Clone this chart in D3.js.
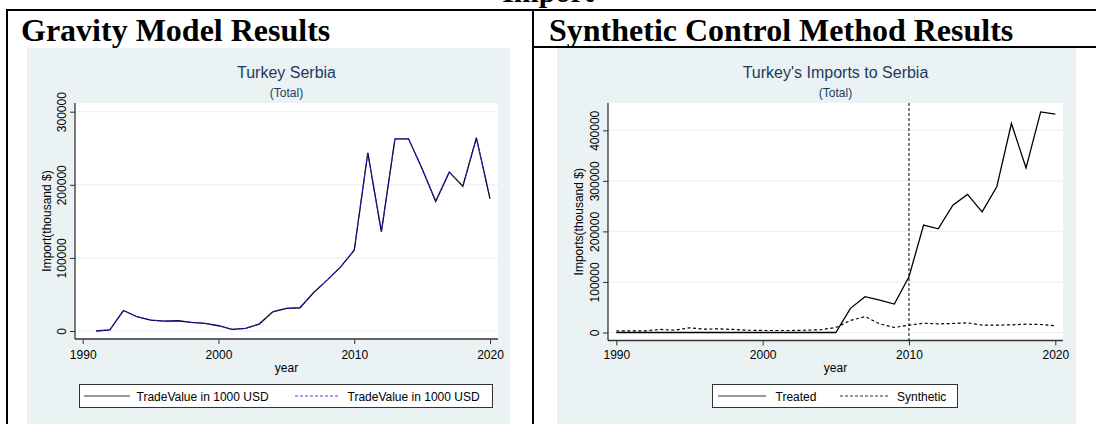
<!DOCTYPE html>
<html>
<head>
<meta charset="utf-8">
<script src="https://cdn.jsdelivr.net/npm/d3@7"></script>
<style>
  body { margin: 0; background: #fff; }
  text { font-family: "Liberation Sans", Arial, sans-serif; }
</style>
</head>
<body>
<div id="chart"></div>
<script>
(function(){

// ---- data ----
var gravityYears = [1991,1992,1993,1994,1995,1996,1997,1998,1999,2000,
                    2001,2002,2003,2004,2005,2006,2007,2008,2009,2010,
                    2011,2012,2013,2014,2015,2016,2017,2018,2019,2020];
var gravityImport = [0,1500,28000,19500,15000,13600,14000,11800,10500,7200,
                     2300,3600,9500,26300,31000,31800,52300,69600,87700,110500,
                     243800,135500,262900,262900,222000,177400,217300,198200,264300,181000];

var scmYears = [1990,1991,1992,1993,1994,1995,1996,1997,1998,1999,
                2000,2001,2002,2003,2004,2005,2006,2007,2008,2009,
                2010,2011,2012,2013,2014,2015,2016,2017,2018,2019,2020];
var scmTreated = [0,0,0,0,0,0,0,0,0,0,
                  0,0,0,0,0,0,47800,70800,64200,56300,
                  110300,212500,205100,252000,273100,238700,288100,413400,325700,436400,431800];
var scmSynthetic = [3000,3300,3300,6000,4600,9200,6600,7200,6000,4600,
                    4000,4000,4000,4600,5600,9900,23700,31600,17100,9900,
                    14500,18400,17100,17800,19100,14500,14500,15100,16400,15800,13200];

var xTicks = [1990, 2000, 2010, 2020];
var gravityYTicks = [0, 100000, 200000, 300000];
var scmYTicks = [0, 100000, 200000, 300000, 400000];
var treatmentYear = 2010;

var bg = "#eaf2f3",
    titleColor = "#1f3a5f",
    axisColor = "#333";

var svg = d3.select("#chart").append("svg")
    .attr("width", 1096)
    .attr("height", 424);

// ---- table frame ----
svg.append("rect").attr("x", 27).attr("y", 48).attr("width", 483).attr("height", 376).attr("fill", bg);
svg.append("rect").attr("x", 557).attr("y", 48).attr("width", 519).attr("height", 376).attr("fill", bg);

var border = svg.append("g").attr("stroke", "#000").attr("stroke-width", 2);
border.append("line").attr("x1", 6).attr("x2", 1096).attr("y1", 10).attr("y2", 10);
border.append("line").attr("x1", 7).attr("x2", 7).attr("y1", 9).attr("y2", 424);
border.append("line").attr("x1", 533).attr("x2", 533).attr("y1", 9).attr("y2", 424);
border.append("line").attr("x1", 533).attr("x2", 1096).attr("y1", 47).attr("y2", 47);

var serif = "'Liberation Serif', 'Times New Roman', serif";
svg.append("text").attr("x", 548).attr("y", 2).attr("text-anchor", "middle")
    .style("font-family", serif).attr("font-weight", "bold").attr("font-size", "30px")
    .text("Import");
svg.append("text").attr("x", 21).attr("y", 41)
    .style("font-family", serif).attr("font-weight", "bold").attr("font-size", "32px")
    .text("Gravity Model Results");
svg.append("text").attr("x", 549).attr("y", 41)
    .style("font-family", serif).attr("font-weight", "bold").attr("font-size", "32px")
    .text("Synthetic Control Method Results");

// ---- one Stata-like panel ----
function drawPanel(p) {
  var g = svg.append("g");
  var x = d3.scaleLinear().domain([1990, 2020]).range(p.xRange);
  var y = d3.scaleLinear().domain([0, p.yTicks[p.yTicks.length - 1]]).range(p.yRange);

  // plot region
  g.append("rect")
      .attr("x", p.left).attr("y", p.top)
      .attr("width", p.right - p.left).attr("height", p.bottom - p.top)
      .attr("fill", "#fff");

  // gridlines
  g.selectAll("line.grid")
    .data(p.yTicks)
    .enter()
    .append("line")
      .attr("class", "grid")
      .attr("x1", p.left).attr("x2", p.right)
      .attr("y1", function(d){ return y(d); })
      .attr("y2", function(d){ return y(d); })
      .attr("stroke", bg).attr("stroke-width", 1.2);

  // y axis
  var ya = g.append("g")
      .attr("transform", "translate(" + p.left + ",0)")
      .call(d3.axisLeft(y).tickValues(p.yTicks).tickSize(5).tickFormat(function(d){ return d; }));
  ya.select(".domain").remove();
  ya.selectAll("line").attr("stroke", axisColor);
  ya.selectAll("text")
      .attr("transform", "rotate(-90)")
      .attr("x", 0).attr("y", -9).attr("dy", null)
      .attr("text-anchor", "middle")
      .attr("font-size", "12px").attr("fill", "#000")
      .style("font-family", "'Liberation Sans', Arial, sans-serif");

  // x axis
  var xa = g.append("g")
      .attr("transform", "translate(0," + p.bottom + ")")
      .call(d3.axisBottom(x).tickValues(xTicks).tickSize(5).tickPadding(p.xPad).tickFormat(function(d){ return d; }));
  xa.select(".domain").remove();
  xa.selectAll("line").attr("stroke", axisColor);
  xa.selectAll("text")
      .attr("font-size", "12px").attr("fill", "#000")
      .style("font-family", "'Liberation Sans', Arial, sans-serif");

  // axis lines across the whole plot region
  g.append("line").attr("x1", p.left).attr("x2", p.left).attr("y1", p.top).attr("y2", p.bottom)
      .attr("stroke", axisColor).attr("stroke-width", 1.3);
  g.append("line").attr("x1", p.left).attr("x2", p.right).attr("y1", p.bottom).attr("y2", p.bottom)
      .attr("stroke", axisColor).attr("stroke-width", 1.3);

  // titles
  var cx = (p.left + p.right) / 2;
  g.append("text").attr("x", cx).attr("y", 78).attr("text-anchor", "middle")
      .attr("font-size", "16px").attr("fill", titleColor).text(p.title);
  g.append("text").attr("x", cx).attr("y", 97).attr("text-anchor", "middle")
      .attr("font-size", "12px").attr("fill", titleColor).text("(Total)");
  g.append("text").attr("x", cx).attr("y", 372).attr("text-anchor", "middle")
      .attr("font-size", "12px").attr("fill", "#000").text("year");
  g.append("text")
      .attr("transform", "translate(" + p.yTitleX + "," + ((p.top + p.bottom) / 2) + ") rotate(-90)")
      .attr("text-anchor", "middle")
      .attr("font-size", "12px").attr("fill", "#000").text(p.yTitle);

  return {g: g, x: x, y: y};
}

function addLine(panel, xs, ys, color, width, dash) {
  var line = d3.line()
      .x(function(d){ return panel.x(d[0]); })
      .y(function(d){ return panel.y(d[1]); });
  panel.g.append("path")
      .datum(d3.zip(xs, ys))
      .attr("d", line)
      .attr("fill", "none")
      .attr("stroke", color)
      .attr("stroke-width", width)
      .attr("stroke-dasharray", dash);
}

function addLegend(g, box, items) {
  var lg = g.append("g");
  lg.append("rect")
      .attr("x", box[0]).attr("y", box[1]).attr("width", box[2]).attr("height", box[3])
      .attr("fill", "#fff").attr("stroke", "#333").attr("stroke-width", 1);
  var cy = box[1] + box[3] / 2;
  items.forEach(function(it){
    lg.append("line")
        .attr("x1", it.x1).attr("x2", it.x2).attr("y1", cy).attr("y2", cy)
        .attr("stroke", it.color).attr("stroke-width", it.width)
        .attr("stroke-dasharray", it.dash);
    lg.append("text").attr("x", it.tx).attr("y", cy + 4.5)
        .attr("font-size", "12px").attr("fill", "#000").text(it.label);
  });
}

// ---- left: gravity model ----
var left = drawPanel({
  left: 75, right: 498, top: 103, bottom: 339,
  xRange: [82.7, 490], yRange: [331, 111.7],
  yTicks: gravityYTicks, xPad: 6,
  title: "Turkey Serbia", yTitle: "Import(thousand $)", yTitleX: 51
});
addLine(left, gravityYears, gravityImport, "#000", 1.3, null);
addLine(left, gravityYears, gravityImport, "#2020ff", 1, "3,2");
addLegend(left.g, [79.5, 384.5, 413, 23], [
  {x1: 84, x2: 130, tx: 136.5, color: "#333", width: 1.2, dash: null, label: "TradeValue in 1000 USD"},
  {x1: 295, x2: 340, tx: 347.5, color: "#3c3cff", width: 1, dash: "3,2", label: "TradeValue in 1000 USD"}
]);

// ---- right: synthetic control ----
var right = drawPanel({
  left: 608, right: 1063, top: 103, bottom: 340.5,
  xRange: [616.3, 1055.3], yRange: [332.5, 130.3],
  yTicks: scmYTicks, xPad: 5,
  title: "Turkey's Imports to Serbia", yTitle: "Imports(thousand $)", yTitleX: 583
});
right.g.append("line")
    .attr("x1", right.x(treatmentYear)).attr("x2", right.x(treatmentYear))
    .attr("y1", 103).attr("y2", 340.5)
    .attr("stroke", "#000").attr("stroke-width", 1).attr("stroke-dasharray", "3,2");
addLine(right, scmYears, scmTreated, "#000", 1.3, null);
addLine(right, scmYears, scmSynthetic, "#000", 1.2, "3,2.5");
addLegend(right.g, [712.5, 384.5, 245, 23], [
  {x1: 718, x2: 766, tx: 775.5, color: "#333", width: 1.2, dash: null, label: "Treated"},
  {x1: 840, x2: 889, tx: 897, color: "#333", width: 1.2, dash: "3,2", label: "Synthetic"}
]);

})();
</script>
</body>
</html>
